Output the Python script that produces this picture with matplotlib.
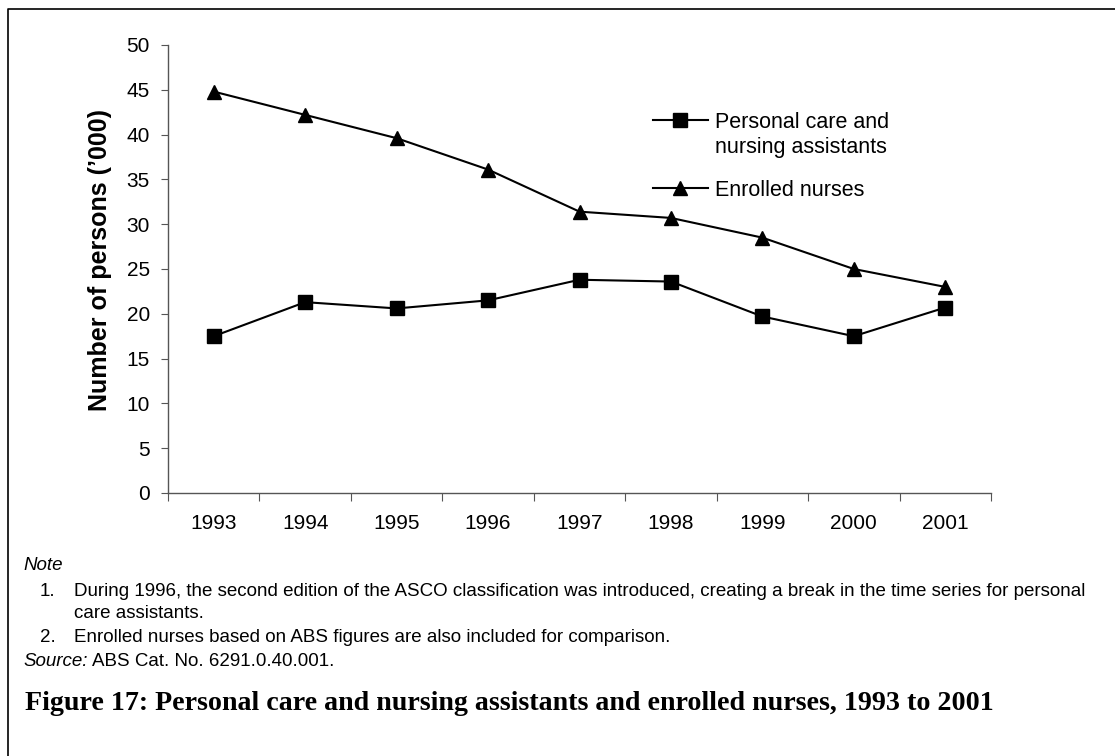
import matplotlib
matplotlib.use("Agg")
import matplotlib.pyplot as plt
from matplotlib.lines import Line2D

years = ["1993", "1994", "1995", "1996", "1997", "1998", "1999", "2000", "2001"]
personal_care = [17.5, 21.3, 20.6, 21.5, 23.8, 23.6, 19.7, 17.5, 20.7]
enrolled_nurses = [44.8, 42.2, 39.6, 36.1, 31.4, 30.7, 28.5, 25.0, 23.0]
y_ticks = [0, 5, 10, 15, 20, 25, 30, 35, 40, 45, 50]

plt.rcParams['font.family'] = ['Liberation Sans', 'DejaVu Sans']

W, H = 1115, 756
fig = plt.figure(figsize=(W / 100, H / 100), dpi=100)
ax = fig.add_axes([168 / W, 1 - 493 / H, 823 / W, 448 / H])

x = list(range(len(years)))
l1, = ax.plot(x, personal_care, color='black', lw=1.5, marker='s', ms=9.5)
l2, = ax.plot(x, enrolled_nurses, color='black', lw=1.5, marker='^', ms=10.5)

ax.set_xlim(-0.5, len(years) - 0.5)
ax.set_ylim(0, 50)
ax.set_yticks(y_ticks)
ax.set_yticklabels([str(v) for v in y_ticks], fontsize=15)
ax.set_xticks([i - 0.5 for i in range(len(years) + 1)])
ax.set_xticklabels([])
ax.set_xticks(x, minor=True)
ax.set_xticklabels(years, minor=True, fontsize=15)
ax.tick_params(axis='x', which='major', length=6, direction='out', color='#555555')
ax.tick_params(axis='x', which='minor', length=0, pad=15)
ax.tick_params(axis='y', length=5, direction='out', color='#555555', pad=8)
for s in ['top', 'right']:
    ax.spines[s].set_visible(False)
for s in ['left', 'bottom']:
    ax.spines[s].set_color('#555555')
    ax.spines[s].set_linewidth(1.0)
ax.set_ylabel("Number of persons (\u2019000)", fontsize=18, fontweight='bold')
ax.yaxis.set_label_coords(-0.068, 0.52)

leg = ax.legend([l1, l2], ['Personal care and', 'Enrolled nurses'],
                loc='upper left', bbox_to_anchor=((644 - 168) / 823, (493 - 103) / 448),
                frameon=False, fontsize=15.5, handlelength=2.55, handletextpad=0.33,
                labelspacing=2.2, borderaxespad=0)

# border lines
fig.add_artist(Line2D([8 / W, 8 / W, 1.0], [0, 1 - 9 / H, 1 - 9 / H],
                      transform=fig.transFigure, color='black', lw=1.2))

renderer = fig.canvas.get_renderer()
fig.canvas.draw()
ltxt = leg.get_texts()[0]
bb = ltxt.get_window_extent(renderer)
fig.text(bb.x0 / W, (bb.y0 - 25) / H, "nursing assistants", fontsize=15.5,
         va='bottom', ha='left')


def fit(t, target_px):
    w = t.get_window_extent(renderer).width
    t.set_fontsize(t.get_fontsize() * target_px / w)


fs = 13.5
tx = 74
fig.text(23 / W, 1 - 566 / H, "Note", fontsize=fs, style='italic', va='center')
fig.text(40 / W, 1 - 592 / H, "1.", fontsize=fs, va='center')
t1 = fig.text(tx / W, 1 - 592 / H,
              "During 1996, the second edition of the ASCO classification was introduced, creating a break in the time series for personal",
              fontsize=fs, va='center')
fit(t1, 1085 - tx)
fs = t1.get_fontsize()
fig.text(tx / W, 1 - 613 / H, "care assistants.", fontsize=fs, va='center')
fig.text(40 / W, 1 - 637 / H, "2.", fontsize=fs, va='center')
fig.text(tx / W, 1 - 637 / H, "Enrolled nurses based on ABS figures are also included for comparison.",
         fontsize=fs, va='center')
src = fig.text(23 / W, 1 - 662 / H, "Source:", fontsize=fs, style='italic', va='center')
sw = src.get_window_extent(renderer).width
fig.text((23 + sw + 4) / W, 1 - 662 / H, "ABS Cat. No. 6291.0.40.001.", fontsize=fs, va='center')
tt = fig.text(25 / W, 1 - 703 / H,
              "Figure 17: Personal care and nursing assistants and enrolled nurses, 1993 to 2001",
              fontsize=18, fontweight='bold', family=['Liberation Serif'], va='center')
fit(tt, 990 - 25)

fig.savefig("out.png", dpi=100)
